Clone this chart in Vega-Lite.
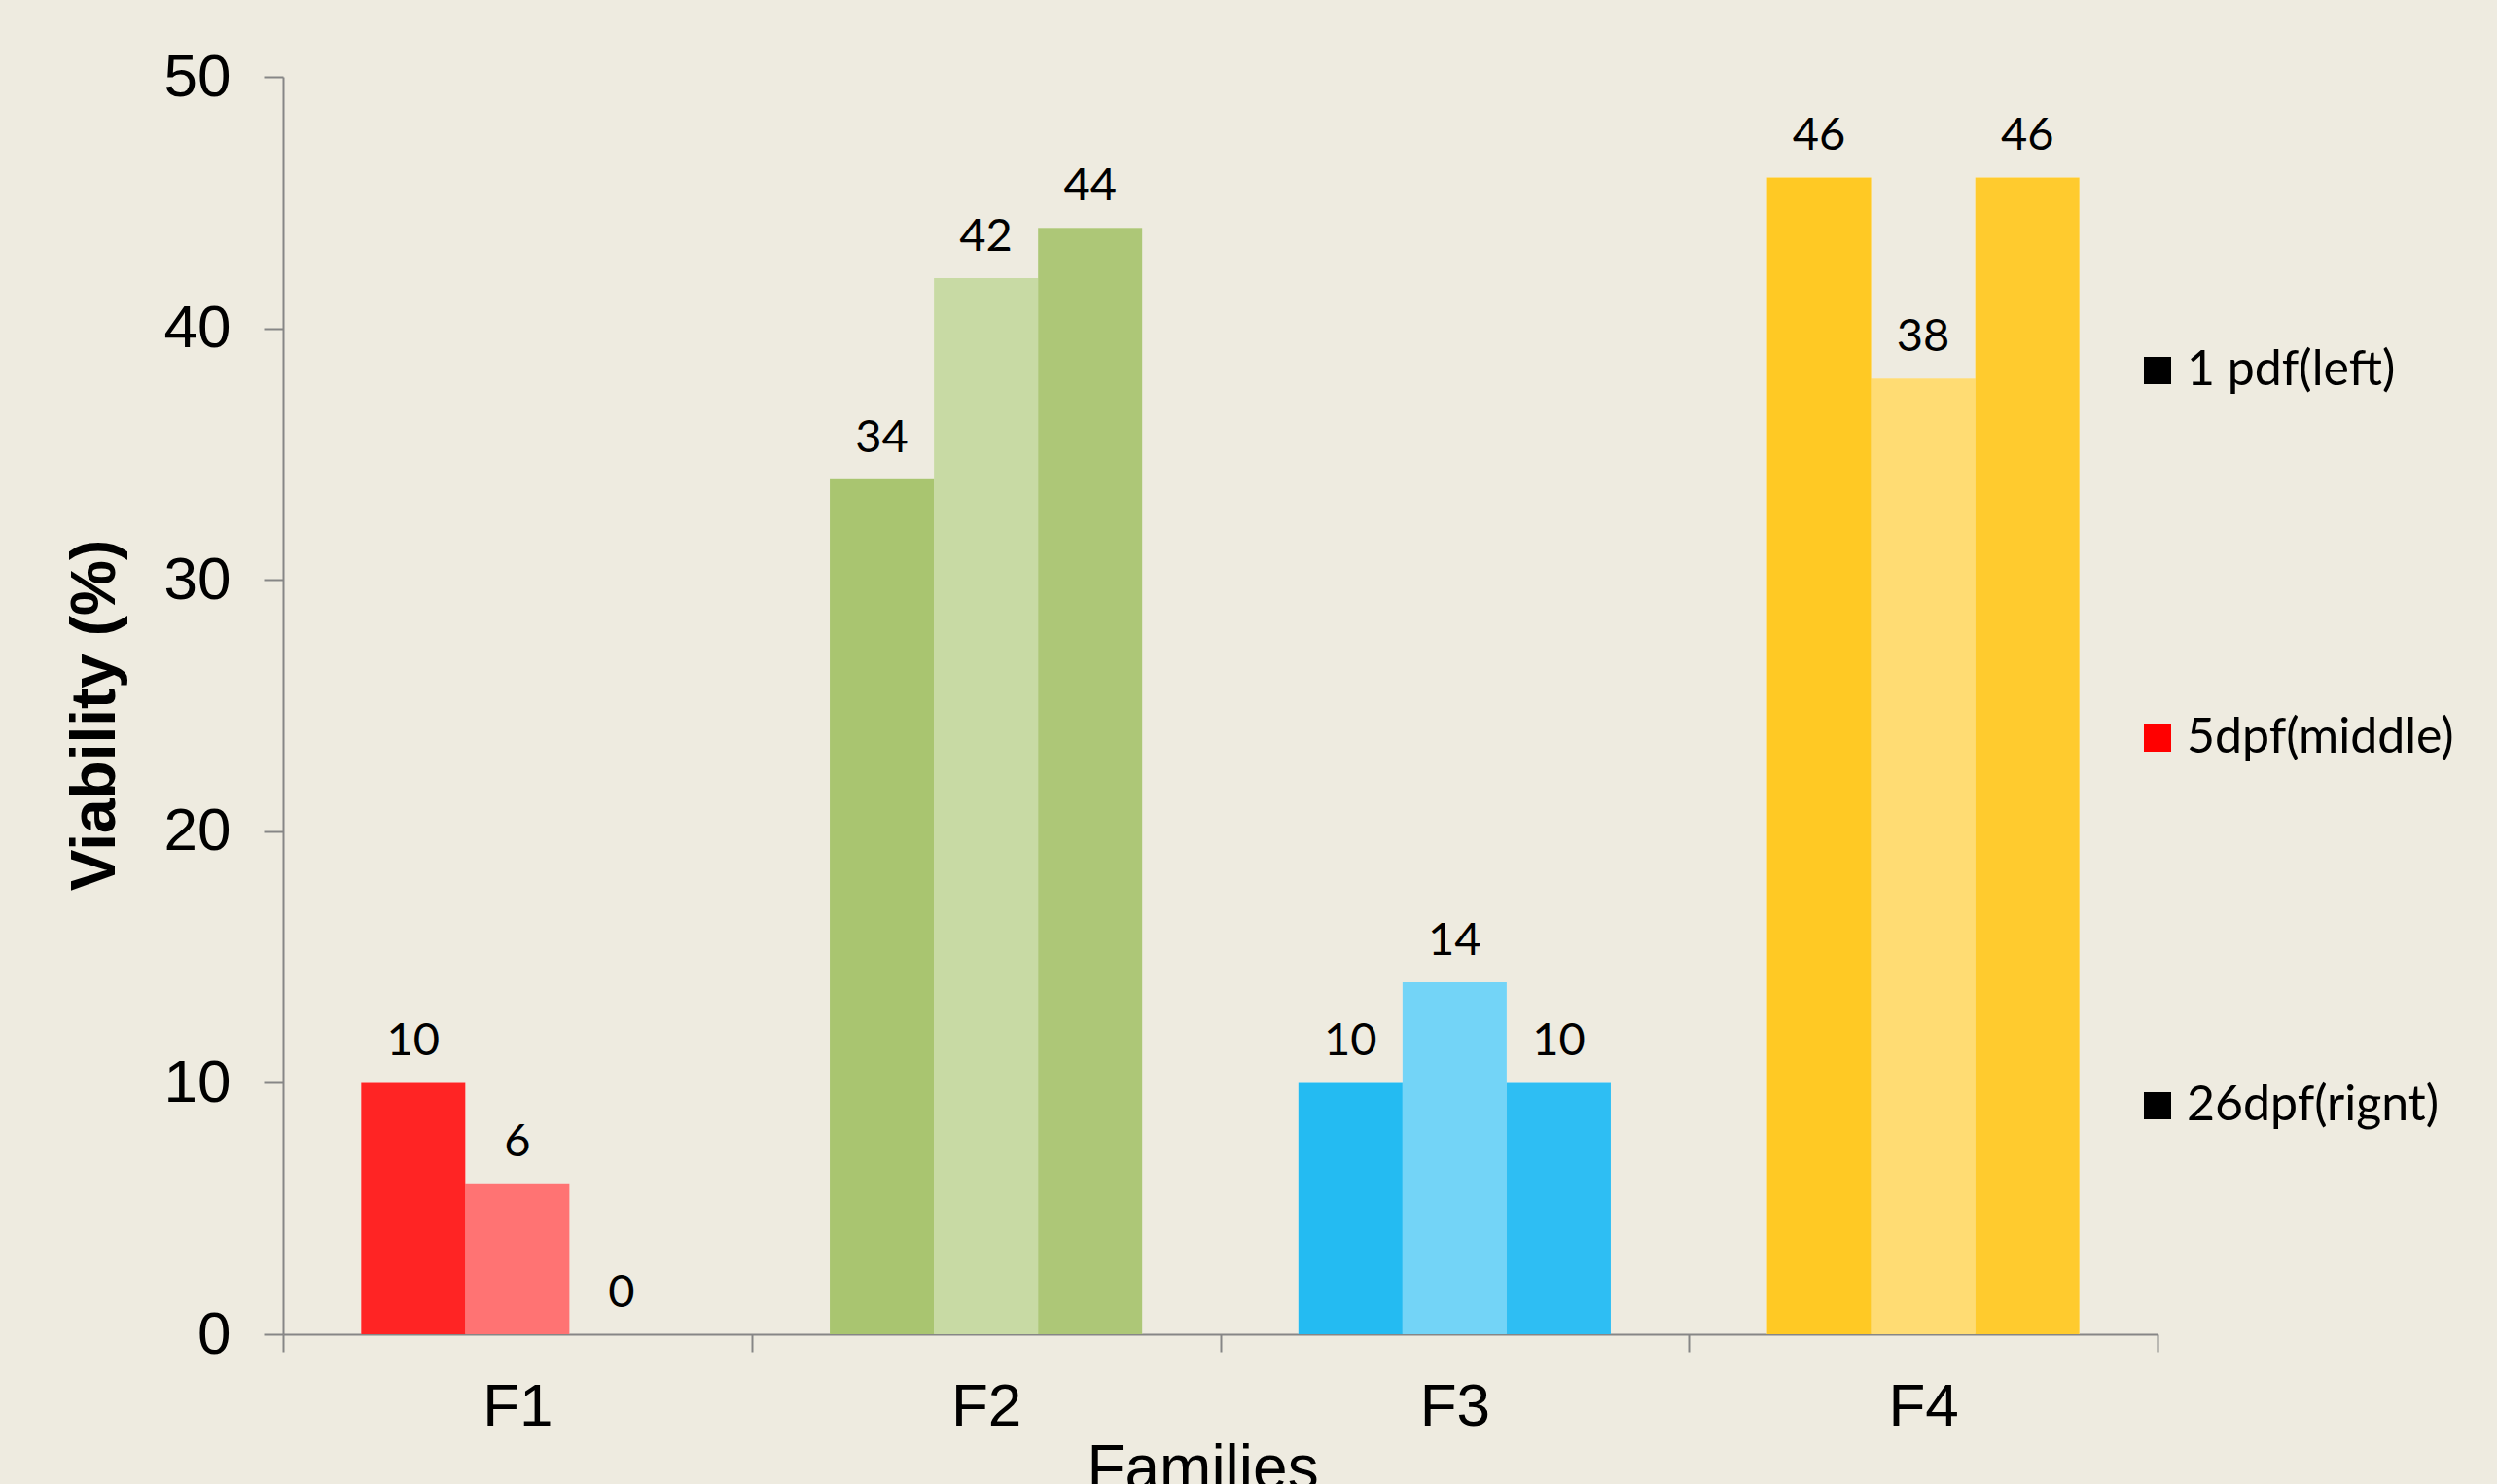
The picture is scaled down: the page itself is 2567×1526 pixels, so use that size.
{
  "$schema": "https://vega.github.io/schema/vega-lite/v6.json",
  "autosize": "none",
  "width": 1927,
  "height": 1293,
  "padding": {"left": 291, "top": 79, "right": 349, "bottom": 154},
  "background": "#EEEBE0",
  "config": {"view": {"stroke": null}, "font": "Liberation Sans"},
  "data": {
    "values": [
      {"family": "F1", "series": "1 pdf(left)", "value": 10},
      {"family": "F1", "series": "5dpf(middle)", "value": 6},
      {"family": "F1", "series": "26dpf(rignt)", "value": 0},
      {"family": "F2", "series": "1 pdf(left)", "value": 34},
      {"family": "F2", "series": "5dpf(middle)", "value": 42},
      {"family": "F2", "series": "26dpf(rignt)", "value": 44},
      {"family": "F3", "series": "1 pdf(left)", "value": 10},
      {"family": "F3", "series": "5dpf(middle)", "value": 14},
      {"family": "F3", "series": "26dpf(rignt)", "value": 10},
      {"family": "F4", "series": "1 pdf(left)", "value": 46},
      {"family": "F4", "series": "5dpf(middle)", "value": 38},
      {"family": "F4", "series": "26dpf(rignt)", "value": 46}
    ]
  },
  "encoding": {
    "x": {
      "field": "family",
      "type": "nominal",
      "sort": ["F1", "F2", "F3", "F4"],
      "scale": {"paddingInner": 0, "paddingOuter": 0},
      "title": "Families",
      "axis": {
        "labelAngle": 0,
        "labelFontSize": 62,
        "labelColor": "#000000",
        "labelPadding": 26,
        "tickBand": "extent",
        "tickSize": 18,
        "tickColor": "#868686",
        "tickWidth": 2,
        "domainColor": "#868686",
        "domainWidth": 2,
        "titleFontSize": 64,
        "titleFontWeight": "normal",
        "titleColor": "#000000",
        "titlePadding": 2,
        "titleX": 945
      }
    },
    "xOffset": {
      "field": "series",
      "type": "nominal",
      "sort": ["1 pdf(left)", "5dpf(middle)", "26dpf(rignt)"],
      "scale": {"paddingInner": 0, "paddingOuter": 0.75}
    },
    "y": {
      "field": "value",
      "type": "quantitative",
      "scale": {"domain": [0, 50], "nice": false},
      "title": "Viability (%)",
      "axis": {
        "values": [0, 10, 20, 30, 40, 50],
        "grid": false,
        "labelFontSize": 62,
        "labelColor": "#000000",
        "labelPadding": 34,
        "tickSize": 20,
        "tickColor": "#868686",
        "tickWidth": 2,
        "domainColor": "#868686",
        "domainWidth": 2,
        "titleFontSize": 64,
        "titleFontWeight": "bold",
        "titleColor": "#000000",
        "titlePadding": 38,
        "titleY": 656
      }
    }
  },
  "layer": [
    {"mark": {"type": "bar", "color": "#FFFFFF"}},
    {
      "mark": {"type": "bar"},
      "encoding": {
        "color": {
          "field": "family",
          "type": "nominal",
          "scale": {"domain": ["F1", "F2", "F3", "F4"], "range": ["#FF0000", "#9BBB59", "#00B0F0", "#FFC000"]},
          "legend": null
        },
        "opacity": {
          "field": "series",
          "type": "nominal",
          "scale": {"type": "ordinal", "domain": ["1 pdf(left)", "5dpf(middle)", "26dpf(rignt)"], "range": [0.86, 0.55, 0.82]},
          "legend": null
        }
      }
    },
    {
      "mark": {"type": "square", "size": 0, "opacity": 0},
      "encoding": {
        "color": {
          "field": "series",
          "type": "nominal",
          "scale": {"domain": ["1 pdf(left)", "5dpf(middle)", "26dpf(rignt)"], "range": ["#000000", "#FF0000", "#000000"]},
          "legend": {
            "title": null,
            "orient": "none",
            "legendX": 1902,
            "legendY": 277,
            "direction": "vertical",
            "rowPadding": 328,
            "labelFont": "Lato",
            "labelFontSize": 50,
            "labelColor": "#000000",
            "labelLimit": 0,
            "labelOffset": 5,
            "symbolType": "square",
            "symbolSize": 784,
            "symbolOpacity": 1,
            "symbolStrokeWidth": 0
          }
        }
      }
    },
    {
      "mark": {"type": "text", "font": "Lato", "fontSize": 47, "baseline": "bottom", "dy": -18, "color": "#000000"},
      "encoding": {"text": {"field": "value", "type": "quantitative"}}
    }
  ],
  "resolve": {"scale": {"color": "independent", "opacity": "independent"}, "legend": {"color": "independent"}}
}
